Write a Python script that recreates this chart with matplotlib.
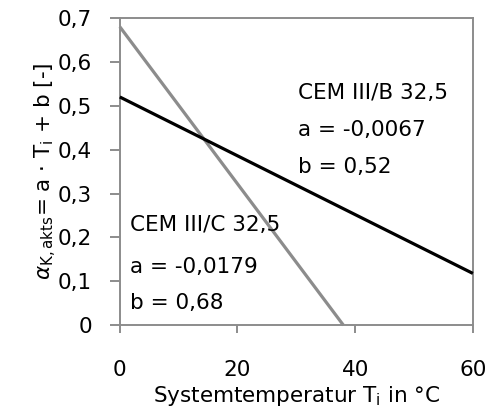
import matplotlib
matplotlib.use("Agg")
import matplotlib.pyplot as plt

# data
x_b = [0, 60]
y_b = [0.52, 0.118]
x_c = [0, 38.0]
y_c = [0.68, 0.0]
xticks = [0, 20, 40, 60]
yticks = [0, 0.1, 0.2, 0.3, 0.4, 0.5, 0.6, 0.7]
yticklabels = ["0", "0,1", "0,2", "0,3", "0,4", "0,5", "0,6", "0,7"]
label_b = ["CEM III/B 32,5", "a = -0,0067", "b = 0,52"]
label_c = ["CEM III/C 32,5", "a = -0,0179", "b = 0,68"]

plt.rcParams['font.family'] = ['DejaVu Sans']
plt.rcParams['mathtext.fontset'] = 'dejavusans'
fs = 15.5

fig = plt.figure(figsize=(4.89, 4.18), dpi=100)
ax = fig.add_axes([0.245, 0.222, 0.722, 0.735])
spine_col = '#8c8c8c'
ax.plot(x_c, y_c, color='#8c8c8c', lw=2.3, solid_capstyle='butt', clip_on=False, zorder=3)
ax.plot(x_b, y_b, color='black', lw=2.3, solid_capstyle='butt', clip_on=False, zorder=4)

ax.set_xlim(0, 60)
ax.set_ylim(0, 0.7)
ax.set_xticks(xticks)
ax.set_xticklabels([str(t) for t in xticks])
ax.set_yticks(yticks)
ax.set_yticklabels(yticklabels)
for s in ax.spines.values():
    s.set_color(spine_col)
    s.set_linewidth(1.4)
ax.tick_params(axis='x', direction='out', length=6, width=1.4, color=spine_col, pad=19, labelsize=fs)
ax.tick_params(axis='y', direction='out', length=7, width=1.4, color=spine_col, pad=13, labelsize=fs)

ax.set_xlabel(r'Systemtemperatur T$_\mathregular{i}$ in °C', fontsize=fs, labelpad=3)
ax.set_ylabel(r'$\alpha_\mathregular{K,akts}$= a · T$_\mathregular{i}$ + b [-]', fontsize=fs, labelpad=-1)

for txt, yy in zip(label_b, [0.529, 0.445, 0.360]):
    ax.text(30.3, yy, txt, fontsize=fs, va='center', ha='left')
for txt, yy in zip(label_c, [0.228, 0.132, 0.050]):
    ax.text(1.7, yy, txt, fontsize=fs, va='center', ha='left')

fig.savefig('out.png', dpi=100)
